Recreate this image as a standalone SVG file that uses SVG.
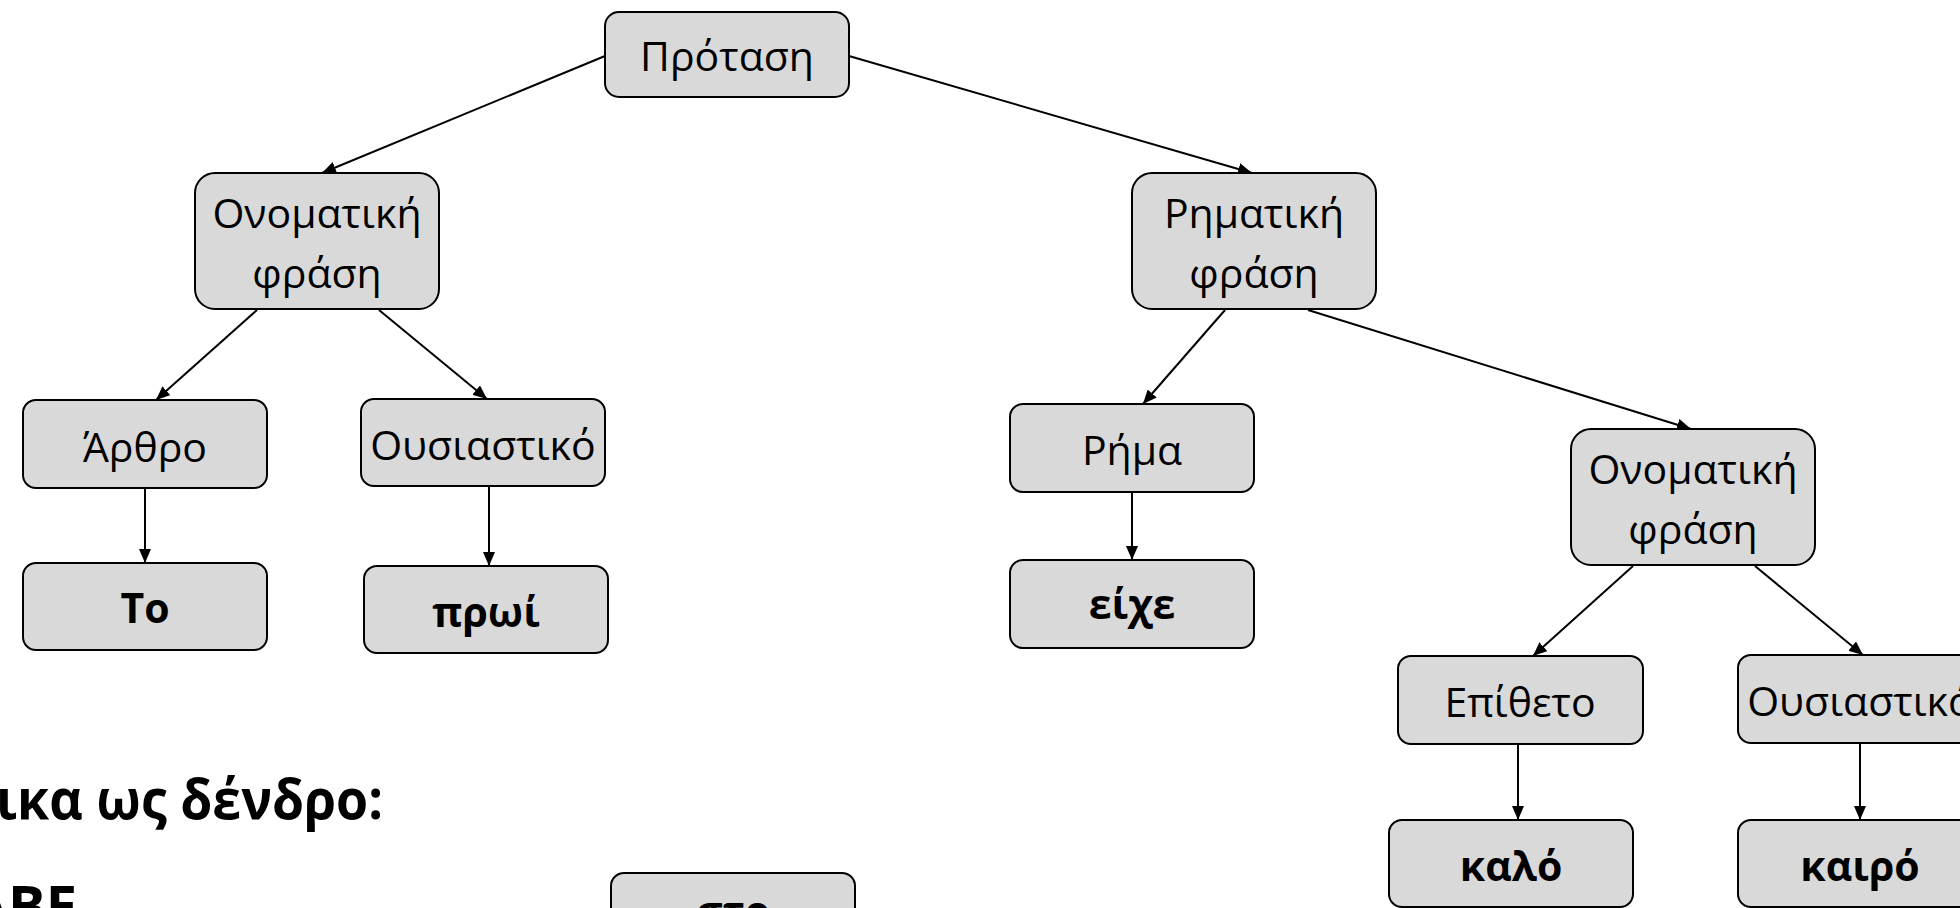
<svg xmlns="http://www.w3.org/2000/svg" width="1960" height="908" viewBox="0 0 1960 908">
  <style>
    .box { fill: #d9d9d9; stroke: #000; stroke-width: 2; }
    .lbl { font-family: "Open Sans", "Noto Sans", sans-serif; font-size: 41px; fill: #000; text-anchor: middle; }
    .word { font-family: "Open Sans", "Noto Sans", sans-serif; font-size: 41px; font-weight: bold; fill: #000; text-anchor: middle; }
    .head { font-family: "Open Sans", "Noto Sans", sans-serif; font-size: 56px; font-weight: bold; fill: #000; }
    .edge { stroke: #000; stroke-width: 2; fill: none; marker-end: url(#arrow); }
  </style>
  <defs>
    <marker id="arrow" viewBox="0 0 14 12" refX="14" refY="6" markerWidth="14" markerHeight="12" markerUnits="userSpaceOnUse" orient="auto">
      <path d="M0,0 L14,6 L0,12 z" fill="#000"/>
    </marker>
  </defs>
  <rect width="1960" height="908" fill="#fff"/>

  <!-- connectors -->
  <g id="edges">
    <line class="edge" x1="605" y1="56" x2="322" y2="173"/>
    <line class="edge" x1="849" y1="56" x2="1252" y2="173"/>
    <line class="edge" x1="257" y1="310" x2="156" y2="400"/>
    <line class="edge" x1="379" y1="310" x2="487" y2="399"/>
    <line class="edge" x1="145" y1="489" x2="145" y2="563"/>
    <line class="edge" x1="489" y1="487" x2="489" y2="566"/>
    <line class="edge" x1="1225" y1="310" x2="1143" y2="404"/>
    <line class="edge" x1="1308" y1="310" x2="1691" y2="429"/>
    <line class="edge" x1="1132" y1="492" x2="1132" y2="560"/>
    <line class="edge" x1="1633" y1="566" x2="1533" y2="656"/>
    <line class="edge" x1="1755" y1="566" x2="1863" y2="655"/>
    <line class="edge" x1="1518" y1="744" x2="1518" y2="820"/>
    <line class="edge" x1="1860" y1="743" x2="1860" y2="820"/>
  </g>

  <!-- nodes -->
  <g id="n-protasi">
    <rect class="box" x="605" y="12" width="244" height="85" rx="14"/>
    <text class="lbl" x="727" y="71">Πρόταση</text>
  </g>
  <g id="n-onomatiki-1">
    <rect class="box" x="195" y="173" width="244" height="136" rx="20"/>
    <text class="lbl" x="317" y="228">Ονοματική</text>
    <text class="lbl" x="317" y="288">φράση</text>
  </g>
  <g id="n-rimatiki">
    <rect class="box" x="1132" y="173" width="244" height="136" rx="20"/>
    <text class="lbl" x="1254" y="228">Ρηματική</text>
    <text class="lbl" x="1254" y="288">φράση</text>
  </g>
  <g id="n-arthro">
    <rect class="box" x="23" y="400" width="244" height="88" rx="13"/>
    <text class="lbl" x="145" y="462">Άρθρο</text>
  </g>
  <g id="n-ousiastiko-1">
    <rect class="box" x="361" y="399" width="244" height="87" rx="13"/>
    <text class="lbl" x="483" y="460">Ουσιαστικό</text>
  </g>
  <g id="n-to">
    <rect class="box" x="23" y="563" width="244" height="87" rx="13"/>
    <text class="word" x="145" y="623">Το</text>
  </g>
  <g id="n-proi">
    <rect class="box" x="364" y="566" width="244" height="87" rx="13"/>
    <text class="word" x="486" y="627">πρωί</text>
  </g>
  <g id="n-rima">
    <rect class="box" x="1010" y="404" width="244" height="88" rx="13"/>
    <text class="lbl" x="1132" y="465">Ρήμα</text>
  </g>
  <g id="n-eixe">
    <rect class="box" x="1010" y="560" width="244" height="88" rx="13"/>
    <text class="word" x="1132" y="619">είχε</text>
  </g>
  <g id="n-onomatiki-2">
    <rect class="box" x="1571" y="429" width="244" height="136" rx="20"/>
    <text class="lbl" x="1693" y="484">Ονοματική</text>
    <text class="lbl" x="1693" y="544">φράση</text>
  </g>
  <g id="n-epitheto">
    <rect class="box" x="1398" y="656" width="245" height="88" rx="13"/>
    <text class="lbl" x="1520" y="717">Επίθετο</text>
  </g>
  <g id="n-ousiastiko-2">
    <rect class="box" x="1738" y="655" width="245" height="88" rx="13"/>
    <text class="lbl" x="1860" y="716">Ουσιαστικό</text>
  </g>
  <g id="n-kalo">
    <rect class="box" x="1389" y="820" width="244" height="87" rx="13"/>
    <text class="word" x="1511" y="881">καλό</text>
  </g>
  <g id="n-kairo">
    <rect class="box" x="1738" y="820" width="245" height="87" rx="13"/>
    <text class="word" x="1860" y="881">καιρό</text>
  </g>
  <g id="n-bottom">
    <rect class="box" x="611" y="873" width="244" height="88" rx="13"/>
    <text class="word" x="733" y="926">στο</text>
  </g>

  <!-- heading text at lower left -->
  <text class="head" x="-4" y="819" textLength="387" lengthAdjust="spacingAndGlyphs">ικα ως δένδρο:</text>
  <text class="head" x="77" y="926" text-anchor="end">ABE</text>
</svg>
